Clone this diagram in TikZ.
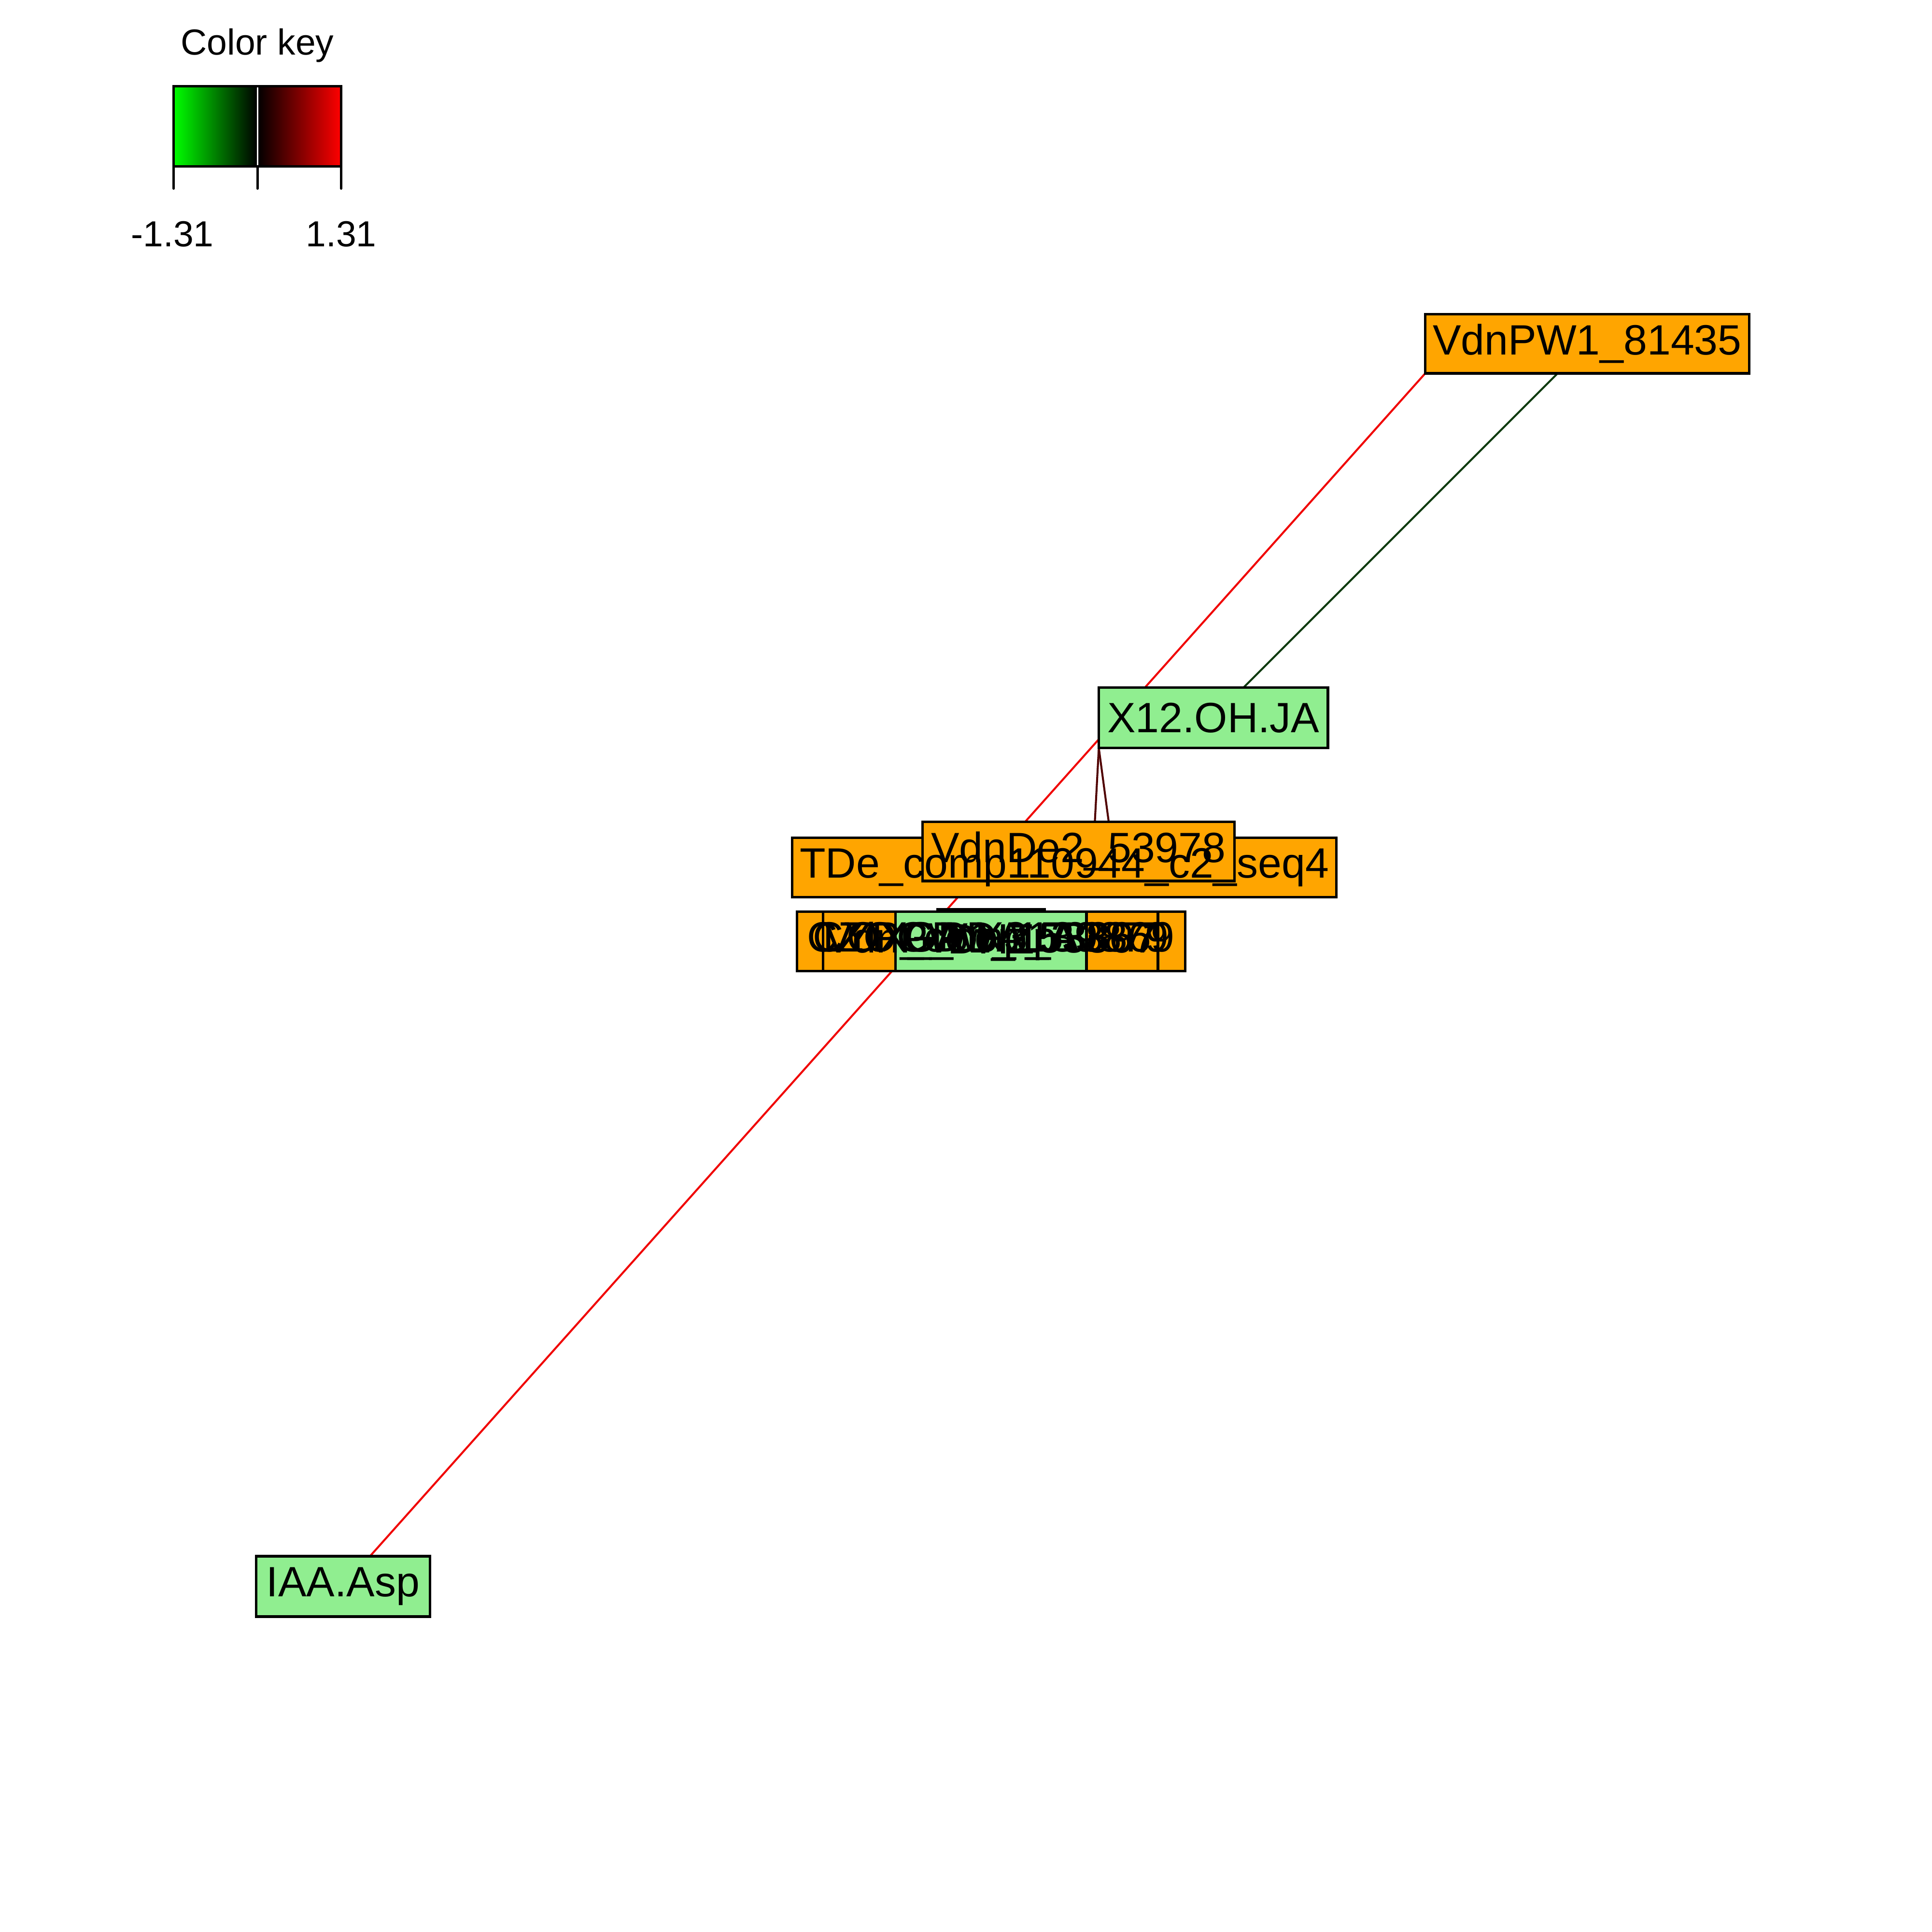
\documentclass[tikz,border=0pt]{standalone}
\usepackage{fontspec}
\setmainfont{Liberation Sans}
\usetikzlibrary{backgrounds,calc}
\definecolor{rorange}{RGB}{255,165,0}
\definecolor{rlgreen}{RGB}{144,238,144}
\definecolor{edgered}{RGB}{240,0,0}
\definecolor{edgedkgreen}{RGB}{12,58,12}
\definecolor{edgedkred}{RGB}{80,0,0}
\definecolor{keygreen}{RGB}{0,255,0}
\definecolor{keyred}{RGB}{255,0,0}
\begin{document}
\begin{tikzpicture}[x=0.5pt,y=-0.5pt,
  nodebox/.style={draw=black, line width=1pt, inner sep=0pt, outer sep=0pt},
  genebox/.style={nodebox, fill=rorange},
  metabox/.style={nodebox, fill=rlgreen},
  lbl/.style={inner sep=0pt, font=\fontsize{17.2}{20}\selectfont},
  keylbl/.style={inner sep=0pt, font=\fontsize{14.7}{17}\selectfont},
  netedge/.style={line width=0.8pt}]
\useasboundingbox (0,0) rectangle (1568,1568);

% ---- colour key ----
\node[keylbl] (keytitle) at (209,37) {Color key};
\shade[left color=keygreen, right color=black] (141,70) rectangle (209,135);
\shade[left color=black, right color=keyred] (209,70) rectangle (277,135);
\draw[white, line width=0.6pt] (209,70) -- (209,135);
\draw[line width=1pt] (141,70) rectangle (277,135);
\draw[line width=1pt, line cap=round] (141,135) -- (141,153) (209,135) -- (209,153) (277,135) -- (277,153);
\node[keylbl] (keymin) at (140,190) {-1.31};
\node[keylbl] (keymax) at (277,190) {1.31};

% ---- boxes (drawn in order) ----
\node[genebox, minimum width=221pt, minimum height=24pt] (tde) at (864,704) {};
\node[genebox, minimum width=126.5pt, minimum height=24pt] (vdnde2) at (875.5,691) {};
\node[genebox, minimum width=157.5pt, minimum height=24pt] (ca) at (804.5,764) {};
\node[genebox, minimum width=157.5pt, minimum height=24pt] (cc) at (804.5,764) {};
\node[genebox, minimum width=136pt, minimum height=24pt] (cb) at (804,764) {};
\node[genebox, minimum width=136pt, minimum height=24pt] (cd) at (804,764) {};
\node[metabox, minimum width=43.5pt, minimum height=24pt] (ch) at (804.5,762) {};
\node[metabox, minimum width=77.5pt, minimum height=24pt] (cg) at (804.5,764) {};
\node[metabox, minimum width=77.5pt, minimum height=24pt] (ce) at (804.5,764) {};
\node[metabox, minimum width=93pt, minimum height=24.5pt] (x12) at (985,582.5) {};
\node[genebox, minimum width=131.5pt, minimum height=24pt] (vdnpw1) at (1288.5,279) {};
\node[metabox, minimum width=70.5pt, minimum height=24.5pt] (iaa) at (278.5,1287.5) {};

% ---- labels (on top of all boxes) ----
\node[lbl] (ltde) at (tde.center) {TDe\_comp110944\_c2\_seq4};
\node[lbl] (lvdnde2) at (vdnde2.center) {VdnDe2\_53978};
\node[lbl] (lca) at (ca.center) {CYP\_comp139879};
\node[lbl] (lcc) at (cc.center) {CZOG\_comp13869};
\node[lbl] (lcb) at (cb.center) {VdnPW1\_153867};
\node[lbl] (lcd) at (cd.center) {LOX\_Dw\_153897};
\node[lbl] (lch) at (ch.center) {DHZ};
\node[lbl] (lcg) at (cg.center) {GA.X3\_A};
\node[lbl] (lce) at (ce.center) {OPDA\_A};
\node[lbl] (lx12) at (x12.center) {X12.OH.JA};
\node[lbl] (lvdnpw1) at (vdnpw1.center) {VdnPW1\_81435};
\node[lbl] (liaa) at (iaa.center) {IAA.Asp};

% ---- edges (behind boxes) ----
\begin{scope}[on background layer]
\draw[netedge, edgered] (vdnpw1.south west) -- (iaa.center);
\draw[netedge, edgedkgreen] (vdnpw1.center) -- (x12.center);
\draw[netedge, edgedkred] (x12.south west) -- ([xshift=6pt]vdnde2.center);
\draw[netedge, edgedkred] (x12.south west) -- ([xshift=20.5pt]tde.center);
\end{scope}
\end{tikzpicture}
\end{document}
